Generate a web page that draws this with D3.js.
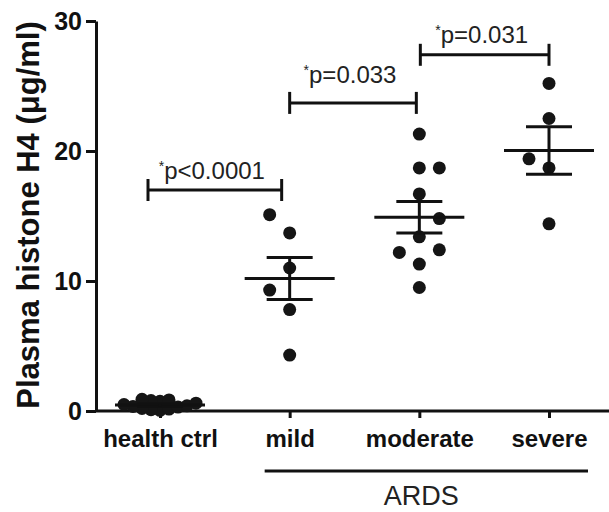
<!DOCTYPE html>
<html>
<head>
<meta charset="utf-8">
<script src="https://cdn.jsdelivr.net/npm/d3@7"></script>
<style>
  html, body { margin: 0; padding: 0; background: #fff; }
  svg { display: block; font-family: "Liberation Sans", Arial, Helvetica, sans-serif; }
</style>
</head>
<body>
<svg id="chart" width="609" height="512"></svg>
<script>
// Plasma histone H4 per subject, grouped by ARDS severity
const groups = ["health ctrl", "mild", "moderate", "severe"];
const healthCtrl = [0.05, 0.1, 0.15, 0.2, 0.3, 0.35, 0.4, 0.5, 0.6, 0.75, 0.8, 0.85, 0.9];
const mild = [15.1, 13.7, 11.0, 9.3, 7.8, 4.3];
const moderate = [21.3, 18.7, 18.7, 16.7, 14.8, 13.4, 12.4, 12.2, 11.3, 9.5];
const severe = [25.2, 22.5, 19.4, 18.7, 14.4];
const yTicks = [0, 10, 20, 30];
const comparisons = [["health ctrl", "mild"], ["mild", "moderate"], ["moderate", "severe"]];
const pValues = ["p<0.0001", "p=0.033", "p=0.031"];
const ardsGroups = ["mild", "moderate", "severe"];
const ardsLabel = "ARDS";
const yTitle = "Plasma histone H4 (\u03bcg/ml)";

const series = [healthCtrl, mild, moderate, severe];

const svg = d3.select("#chart");
const ink = "#111";

const y = d3.scaleLinear().domain([0, 30]).range([411, 21]);
const x = d3.scalePoint().domain(groups).range([160, 549]);

// Column scatter: same-slot points closer than `gap` px are pushed into side slots
function swarm(values, step, gap) {
  const order = d3.range(values.length).sort((a, b) => values[a] - values[b]);
  const slots = new Map();
  const out = new Array(values.length);
  const clearance = (k, py) => {
    const ys = slots.get(k) || [];
    if (!ys.length) return Infinity;
    return d3.min(ys, q => Math.abs(q - py));
  };
  const put = (k, py, i) => {
    if (!slots.has(k)) slots.set(k, []);
    slots.get(k).push(py);
    out[i] = { dx: k * step, y: py, v: values[i] };
  };
  for (const i of order) {
    const py = y(values[i]);
    if (clearance(0, py) >= gap) { put(0, py, i); continue; }
    for (let d = 1; d < 50; d++) {
      const cl = clearance(-d, py), cr = clearance(d, py);
      const okL = cl >= gap, okR = cr >= gap;
      if (okL && okR) { put(cr < cl ? d : -d, py, i); break; }
      if (okL) { put(-d, py, i); break; }
      if (okR) { put(d, py, i); break; }
    }
  }
  return out;
}

// y axis
const yAxis = svg.append("g")
  .attr("transform", "translate(96,0)")
  .call(d3.axisLeft(y).tickValues(yTicks).tickSize(10).tickPadding(4).tickSizeOuter(0));
yAxis.select(".domain").attr("stroke", ink).attr("stroke-width", 3);
yAxis.selectAll(".tick line").attr("stroke", ink).attr("stroke-width", 3);
yAxis.selectAll(".tick text")
  .attr("fill", ink).attr("font-size", 25).attr("font-weight", "bold")
  .attr("font-family", "Liberation Sans, Arial, sans-serif");

// x axis
svg.append("line")
  .attr("x1", 96).attr("x2", 609).attr("y1", y(0)).attr("y2", y(0))
  .attr("stroke", ink).attr("stroke-width", 3);
const xAxis = svg.append("g")
  .attr("transform", `translate(0,${y(0)})`)
  .call(d3.axisBottom(x).tickSize(7).tickPadding(12).tickSizeOuter(0));
xAxis.select(".domain").remove();
xAxis.selectAll(".tick line").attr("stroke", ink).attr("stroke-width", 3);
xAxis.selectAll(".tick text")
  .attr("fill", ink).attr("font-size", 24).attr("font-weight", "bold")
  .attr("font-family", "Liberation Sans, Arial, sans-serif");

// y title
svg.append("text")
  .attr("transform", "translate(39,215) rotate(-90)")
  .attr("text-anchor", "middle")
  .attr("font-size", 31).attr("font-weight", "bold").attr("fill", ink)
  .text(yTitle);

// points, mean and SEM per group
const swarmLayout = [{ step: 9, gap: 9 }, { step: 20, gap: 21 }, { step: 20, gap: 21 }, { step: 20, gap: 21 }];
series.forEach((vals, gi) => {
  const cx = x(groups[gi]);
  const pts = swarm(vals, swarmLayout[gi].step, swarmLayout[gi].gap);
  const g = svg.append("g");
  g.selectAll("circle").data(pts).join("circle")
    .attr("cx", d => cx + d.dx).attr("cy", d => d.y).attr("r", 6.5)
    .attr("fill", "#151515");
  const m = d3.mean(vals);
  const sem = d3.deviation(vals) / Math.sqrt(vals.length);
  g.append("line").attr("x1", cx - 45).attr("x2", cx + 45)
    .attr("y1", y(m)).attr("y2", y(m)).attr("stroke", ink).attr("stroke-width", 3);
  [m - sem, m + sem].forEach(v => {
    g.append("line").attr("x1", cx - 23).attr("x2", cx + 23)
      .attr("y1", y(v)).attr("y2", y(v)).attr("stroke", ink).attr("stroke-width", 3);
  });
  g.append("line").attr("x1", cx).attr("x2", cx)
    .attr("y1", y(m - sem)).attr("y2", y(m + sem)).attr("stroke", ink).attr("stroke-width", 3);
});

// significance brackets
const bracketLevels = [17.0, 23.7, 27.4];
const bracketInset = [[-12, -8], [0, -3], [1, 0]];
const labelGap = [11, 20, 12];
comparisons.forEach((c, i) => {
  const x1 = x(c[0]) + bracketInset[i][0];
  const x2 = x(c[1]) + bracketInset[i][1];
  const by = y(bracketLevels[i]);
  const g = svg.append("g").attr("stroke", ink).attr("stroke-width", 3);
  g.append("line").attr("x1", x1).attr("x2", x2).attr("y1", by).attr("y2", by);
  g.append("line").attr("x1", x1).attr("x2", x1).attr("y1", by - 11).attr("y2", by + 11);
  g.append("line").attr("x1", x2).attr("x2", x2).attr("y1", by - 11).attr("y2", by + 11);
  const t = svg.append("text")
    .attr("x", (x1 + x2) / 2 - 3).attr("y", by - labelGap[i])
    .attr("text-anchor", "middle").attr("font-size", 24).attr("fill", "#222");
  t.append("tspan").attr("font-size", 14).attr("dy", -8).text("*");
  t.append("tspan").attr("dy", 8).text(pValues[i]);
});

// ARDS grouping bar
const ax1 = x(ardsGroups[0]) - 25;
const ax2 = x(ardsGroups[ardsGroups.length - 1]) + 39;
svg.append("line").attr("x1", ax1).attr("x2", ax2).attr("y1", 471).attr("y2", 471)
  .attr("stroke", ink).attr("stroke-width", 3);
svg.append("text")
  .attr("x", x(ardsGroups[1]) + 2).attr("y", 505)
  .attr("text-anchor", "middle").attr("font-size", 27).attr("fill", "#222")
  .text(ardsLabel);
</script>
</body>
</html>
